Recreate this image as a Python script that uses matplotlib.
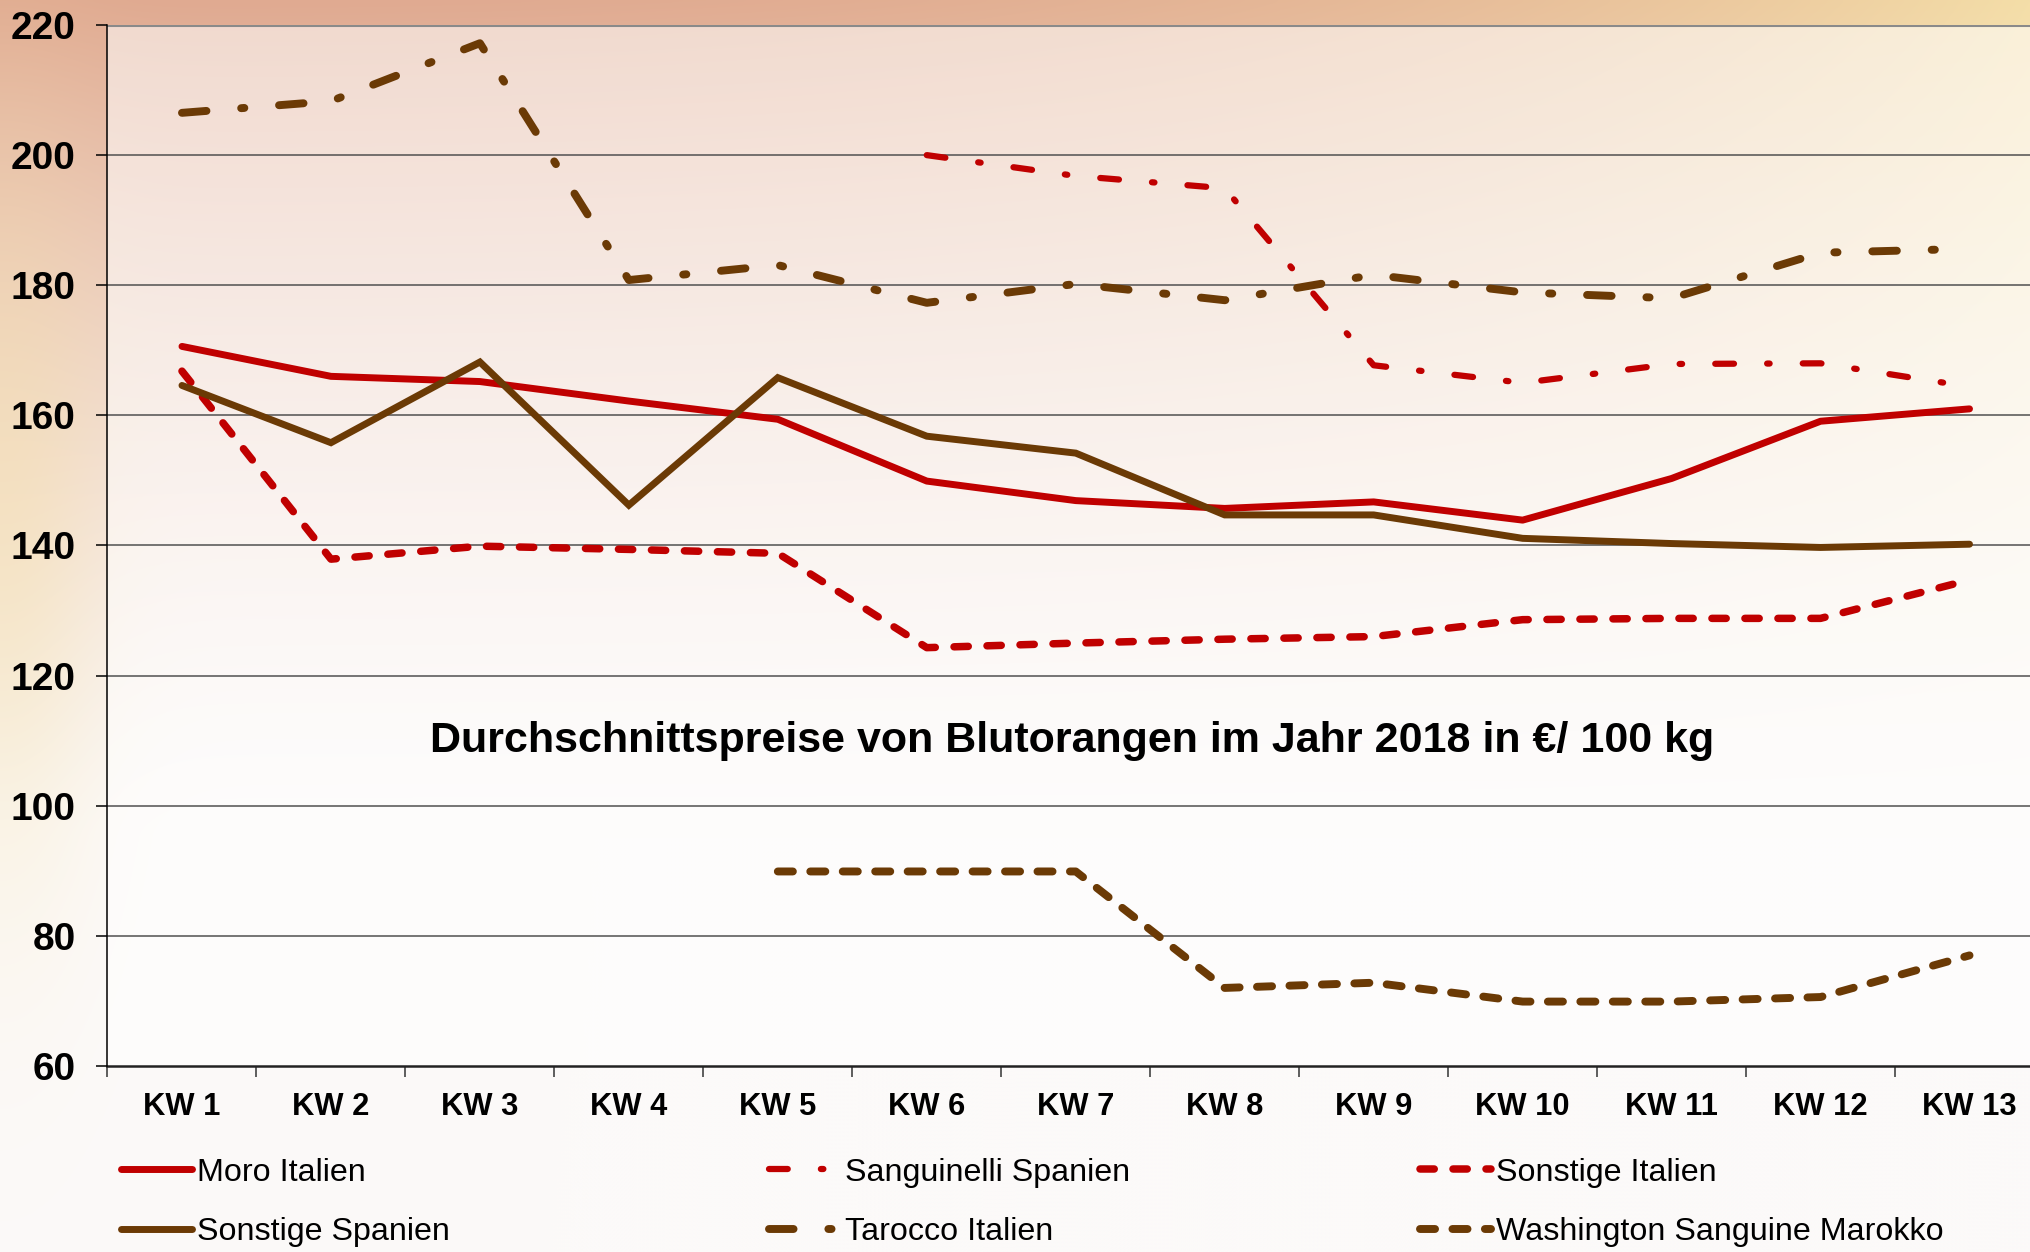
import numpy as np
import matplotlib
matplotlib.use("Agg")
import matplotlib.pyplot as plt

plt.rcParams['font.family'] = ['Liberation Sans', 'DejaVu Sans']

# ---------------- data ----------------
weeks = ['KW 1', 'KW 2', 'KW 3', 'KW 4', 'KW 5', 'KW 6', 'KW 7',
         'KW 8', 'KW 9', 'KW 10', 'KW 11', 'KW 12', 'KW 13']
nan = np.nan
moro_italien = [170.6, 166.0, 165.2, 162.2, 159.4, 149.9, 146.9,
                145.7, 146.7, 143.9, 150.3, 159.1, 161.0]
sanguinelli_spanien = [nan, nan, nan, nan, nan, 200.0, 196.8,
                       194.9, 167.7, 165.0, 167.9, 168.0, 164.4]
sonstige_italien = [166.8, 137.9, 139.9, 139.4, 138.8, 124.3, 125.0,
                    125.6, 126.0, 128.6, 128.8, 128.8, 134.7]
sonstige_spanien = [164.6, 155.8, 168.2, 146.2, 165.8, 156.8, 154.2,
                    144.7, 144.7, 141.1, 140.3, 139.7, 140.2]
tarocco_italien = [206.5, 208.3, 217.2, 180.8, 183.1, 177.3, 180.2,
                   177.7, 181.6, 178.9, 178.0, 185.0, 185.6]
washington_marokko = [nan, nan, nan, nan, 89.9, 89.9, 89.9,
                      72.0, 72.8, 69.9, 69.9, 70.6, 77.0]
y_ticks = [60, 80, 100, 120, 140, 160, 180, 200, 220]
title = 'Durchschnittspreise von Blutorangen im Jahr 2018 in €/ 100 kg'

RED = '#C00000'
BROWN = '#6B3A05'

W, H = 2031, 1252
fig = plt.figure(figsize=(W / 100, H / 100), dpi=100)

# ---------------- background ----------------
bg = fig.add_axes([0, 0, 1, 1], zorder=-10)
gh, gw = 313, 508
yy, xx = np.mgrid[0:1:gh * 1j, 0:1:gw * 1j]
white = np.array([252, 250, 249]) / 255
peach = np.array([224, 170, 145]) / 255
yellow = np.array([244, 222, 168]) / 255
t = np.clip(1.0 - yy * 1.5, 0, 1) ** 1.4
mixc = (peach[None, None, :] * (1 - xx[..., None] ** 3)
        + yellow[None, None, :] * (xx[..., None] ** 3))
img = white[None, None, :] * (1 - t[..., None]) + mixc * t[..., None]
# warm tint on left margin
lt = np.exp(-((xx - 0.0) / 0.05) ** 2) * np.exp(-((yy - 0.4) / 0.3) ** 2) * 0.5
img = img * (1 - lt[..., None]) + yellow[None, None, :] * lt[..., None]
bg.imshow(img, aspect='auto', extent=[0, 1, 0, 1], interpolation='bicubic')
bg.set_xlim(0, 1)
bg.set_ylim(0, 1)
bg.axis('off')

# ---------------- main axes ----------------
left, right, top, bottom = 107.5, 2044, 25, 1066
ax = fig.add_axes([left / W, 1 - bottom / H, (right - left) / W, (bottom - top) / H])
ax.patch.set_facecolor('white')
ax.patch.set_alpha(0.55)

x = np.arange(len(weeks))
lw_solid = 5.0

ax.plot(x, moro_italien, color=RED, lw=lw_solid, solid_capstyle='round',
        solid_joinstyle='round', label='Moro Italien', zorder=5)
ax.plot(x, sanguinelli_spanien, color=RED, lw=4.5,
        linestyle=(0, (3.0, 5.3, 0.4, 5.3)), dash_capstyle='round',
        dash_joinstyle='round', label='Sanguinelli Spanien', zorder=5)
ax.plot(x, sonstige_italien, color=RED, lw=5.4,
        linestyle=(0, (1.9, 2.5)), dash_capstyle='round',
        dash_joinstyle='round', label='Sonstige Italien', zorder=5)
ax.plot(x, sonstige_spanien, color=BROWN, lw=lw_solid, solid_capstyle='round',
        solid_joinstyle='miter', label='Sonstige Spanien', zorder=5)
ax.plot(x, tarocco_italien, color=BROWN, lw=5.7,
        linestyle=(0, (3.1, 4.4, 0.4, 4.4)), dash_capstyle='round',
        dash_joinstyle='round', label='Tarocco Italien', zorder=5)
ax.plot(x, washington_marokko, color=BROWN, lw=5.7,
        linestyle=(0, (1.9, 2.2)), dash_capstyle='round',
        dash_joinstyle='round', label='Washington Sanguine Marokko', zorder=5)

ax.set_xlim(-0.5, len(weeks) - 0.5)
ax.set_ylim(60, 220)
ax.set_yticks(y_ticks)
ax.set_yticklabels([str(v) for v in y_ticks], fontsize=28, fontweight='bold')
ax.set_xticks(x)
ax.set_xticklabels(weeks, fontsize=22.2, fontweight='bold')
ax.set_xticks(np.arange(len(weeks) + 1) - 0.5, minor=True)
ax.tick_params(axis='x', which='major', length=0, pad=19)
ax.tick_params(axis='x', which='minor', length=8, width=1.1, color='#333333', direction='out')
ax.tick_params(axis='y', which='major', length=8, width=1.1, color='black', pad=15)

for yv in y_ticks[1:]:
    ax.axhline(yv, color='#8a8a8a' if yv == 220 else '#505050',
               lw=2.2 if yv == 220 else 1.1, zorder=1)

for s in ['top', 'right']:
    ax.spines[s].set_visible(False)
ax.spines['left'].set_color('black')
ax.spines['left'].set_linewidth(1.1)
ax.spines['bottom'].set_color('#222222')
ax.spines['bottom'].set_linewidth(1.8)
ax.spines['left'].set_zorder(6)

fig.text(1072.5 / W, 1 - 741 / H, title, fontsize=31, fontweight='bold',
         ha='center', va='center')

# ---------------- legends ----------------
handles, labels = ax.get_legend_handles_labels()
hmap = dict(zip(labels, handles))
cols = [(121, ['Moro Italien', 'Sonstige Spanien']),
        (769, ['Sanguinelli Spanien', 'Tarocco Italien']),
        (1420, ['Sonstige Italien', 'Washington Sanguine Marokko'])]
fs_leg = 23.2
for xpos, labs in cols:
    leg = fig.legend([hmap[l] for l in labs], labs, loc='center left',
                     bbox_to_anchor=(xpos / W, 1 - 1202.5 / H),
                     frameon=False, fontsize=fs_leg, handlelength=2.2,
                     handletextpad=0.15, labelspacing=0.92, borderpad=0,
                     borderaxespad=0)

fig.savefig('out.png', dpi=100)
